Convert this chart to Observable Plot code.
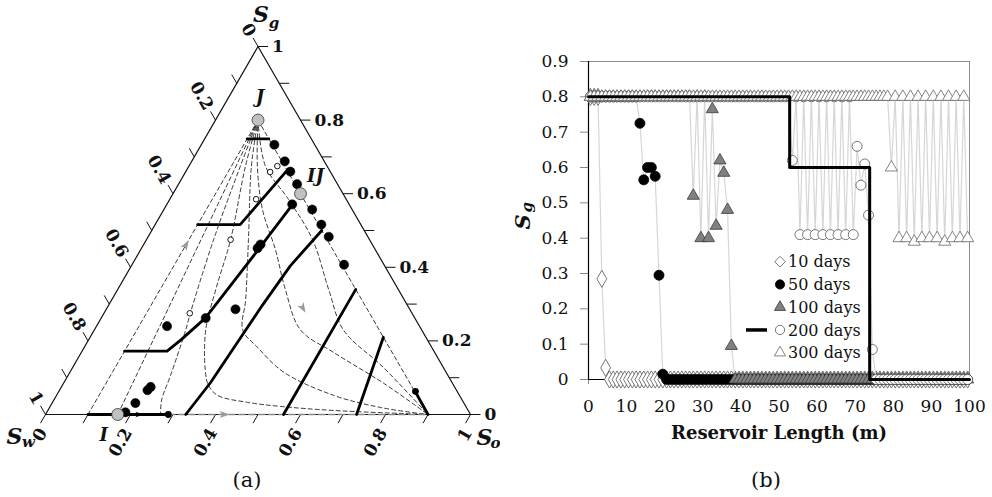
<!DOCTYPE html>
<html><head><meta charset="utf-8">
<script src="https://cdn.jsdelivr.net/npm/d3@7"></script>
<script src="https://cdn.jsdelivr.net/npm/@observablehq/plot@0.6"></script>
<style>
body{margin:0;background:#fff;}
#wrap{position:relative;width:992px;height:497px;overflow:hidden;font-family:"DejaVu Serif",serif;color:#111;}
.panel{position:absolute;top:0;}
.cap{position:absolute;top:467px;width:60px;text-align:center;font-size:21px;line-height:26px;font-family:"DejaVu Serif",serif;}
#legend{position:absolute;left:740px;top:248px;overflow:visible;}
</style></head><body>
<div id="wrap">
 <div id="a" class="panel" style="left:0"></div>
 <div id="b" class="panel" style="left:500px"></div>
 <div class="cap" style="left:217px">(a)</div>
 <div class="cap" style="left:736px">(b)</div>
 <svg id="legend" width="130" height="115"></svg>
</div>
<script>
// ================= DATA: ternary diagram (a) — points are [So, Sg], Sw = 1 - So - Sg =================
const ternTicks = [0, 0.1, 0.2, 0.3, 0.4, 0.5, 0.6, 0.7, 0.8, 0.9, 1];
const ternLabelVals = [0, 0.2, 0.4, 0.6, 0.8, 1];
const ternLabels = ["0", "0.2", "0.4", "0.6", "0.8", "1"];

const pointJ = [0.10, 0.80];
const pointIJ = [0.30, 0.60];
const pointI = [0.17, 0.00];

const fanD1 = [[0.10, 0.80], [0.10, 0.00]];
const fanD2 = [[0.10, 0.80], [0.17, 0.00]];
const fanD3 = [[0.10, 0.80], [0.121, 0.675], [0.158, 0.475], [0.203, 0.276], [0.215, 0.23], [0.241, 0.107], [0.254, 0.038], [0.271, 0.00]];
const fanD4 = [[0.10, 0.80], [0.133, 0.675], [0.198, 0.475], [0.231, 0.339], [0.262, 0.23], [0.316, 0.12], [0.344, 0.079], [0.379, 0.052], [0.459, 0.033], [0.542, 0.022], [0.672, 0.011], [0.90, 0.00]];
const fanD5 = [[0.10, 0.80], [0.147, 0.675], [0.240, 0.475], [0.315, 0.312], [0.349, 0.23], [0.407, 0.183], [0.503, 0.115], [0.652, 0.052], [0.779, 0.019], [0.90, 0.00]];
const fanD6 = [[0.10, 0.80], [0.161, 0.675], [0.232, 0.557], [0.317, 0.448], [0.395, 0.339], [0.485, 0.23], [0.593, 0.169], [0.753, 0.085], [0.90, 0.00]];
const fanD7 = [[0.10, 0.80], [0.180, 0.675], [0.279, 0.585], [0.391, 0.475], [0.497, 0.339], [0.586, 0.23], [0.731, 0.128], [0.90, 0.00]];
const fanD8 = [[0.10, 0.80], [0.90, 0.00]];
const grayPath = [[0.29, 0.00], [0.90, 0.00]];

const thick1 = [[0.10, 0.00], [0.29, 0.00]];
const thick2 = [[0.10, 0.749], [0.151, 0.749]];
const thick3 = [[0.10, 0.516], [0.20, 0.516], [0.237, 0.664]];
const thick4 = [[0.10, 0.172], [0.20, 0.172], [0.217, 0.202], [0.245, 0.262], [0.262, 0.361], [0.278, 0.456], [0.296, 0.571]];
const thick5 = [[0.33, 0.00], [0.345, 0.087], [0.353, 0.189], [0.362, 0.298], [0.374, 0.404], [0.40, 0.50]];
const thick6 = [[0.56, 0.00], [0.56, 0.34]];
const thick7 = [[0.732, 0.00], [0.69, 0.21]];
const thick8 = [[0.90, 0.00], [0.844, 0.057]];

const blackDots = [[0.172, 0.733], [0.219, 0.688], [0.246, 0.660], [0.279, 0.626], [0.349, 0.557], [0.391, 0.516], [0.425, 0.483], [0.499, 0.407],
  [0.295, 0.571], [0.207, 0.066], [0.21, 0.075], [0.196, 0.031], [0.185, 0.006], [0.166, 0.240], [0.246, 0.262], [0.304, 0.286], [0.273, 0.452], [0.275, 0.462]];
const smallBlackDots = [[0.289, 0.00], [0.839, 0.063]];
const openDots = [[0.208, 0.675], [0.199, 0.659], [0.203, 0.585], [0.198, 0.475], [0.202, 0.275]];
const arrowUpD1 = [[0.10, 0.46]];
const arrowBottom = [[0.42, 0.00]];
const arrowDownSw = [[0.46, 0.29]];
const arrowBlack = [[0.22, 0.00]];

// ================= DATA: Sg profiles (b) =================
const cells = [0.5,1.5,2.5,3.5,4.5,5.5,6.5,7.5,8.5,9.5,
 10.5,11.5,12.5,13.5,14.5,15.5,16.5,17.5,18.5,19.5,
 20.5,21.5,22.5,23.5,24.5,25.5,26.5,27.5,28.5,29.5,
 30.5,31.5,32.5,33.5,34.5,35.5,36.5,37.5,38.5,39.5,
 40.5,41.5,42.5,43.5,44.5,45.5,46.5,47.5,48.5,49.5,
 50.5,51.5,52.5,53.5,54.5,55.5,56.5,57.5,58.5,59.5,
 60.5,61.5,62.5,63.5,64.5,65.5,66.5,67.5,68.5,69.5,
 70.5,71.5,72.5,73.5,74.5,75.5,76.5,77.5,78.5,79.5,
 80.5,81.5,82.5,83.5,84.5,85.5,86.5,87.5,88.5,89.5,
 90.5,91.5,92.5,93.5,94.5,95.5,96.5,97.5,98.5,99.5];
const sg10 = [.8,.8,.8,.285,.033,0,0,0,0,0,
 0,0,0,0,0,0,0,0,0,0, 0,0,0,0,0,0,0,0,0,0, 0,0,0,0,0,0,0,0,0,0,
 0,0,0,0,0,0,0,0,0,0, 0,0,0,0,0,0,0,0,0,0, 0,0,0,0,0,0,0,0,0,0,
 0,0,0,0,0,0,0,0,0,0, 0,0,0,0,0,0,0,0,0,0, 0,0,0,0,0,0,0,0,0,0];
const sg50 = [.8,.8,.8,.8,.8,.8,.8,.8,.8,.8,
 .8,.8,.8,.725,.565,.6,.6,.575,.295,.015,
 0,0,0,0,0,0,0,0,0,0, 0,0,0,0,0,0,0,0,0,0, 0,0,0,0,0,0,0,0,0,0,
 0,0,0,0,0,0,0,0,0,0, 0,0,0,0,0,0,0,0,0,0, 0,0,0,0,0,0,0,0,0,0,
 0,0,0,0,0,0,0,0,0,0, 0,0,0,0,0,0,0,0,0,0];
const sg100 = [.8,.8,.8,.8,.8,.8,.8,.8,.8,.8,
 .8,.8,.8,.8,.8,.8,.8,.8,.8,.8,
 .8,.8,.8,.8,.8,.8,.8,.52,.8,.4,
 .8,.4,.765,.435,.62,.585,.48,.095,0,0,
 0,0,0,0,0,0,0,0,0,0, 0,0,0,0,0,0,0,0,0,0, 0,0,0,0,0,0,0,0,0,0,
 0,0,0,0,0,0,0,0,0,0, 0,0,0,0,0,0,0,0,0,0, 0,0,0,0,0,0,0,0,0,0];
const sg200 = [.8,.8,.8,.8,.8,.8,.8,.8,.8,.8,
 .8,.8,.8,.8,.8,.8,.8,.8,.8,.8,
 .8,.8,.8,.8,.8,.8,.8,.8,.8,.8,
 .8,.8,.8,.8,.8,.8,.8,.8,.8,.8,
 .8,.8,.8,.8,.8,.8,.8,.8,.8,.8,
 .8,.8,.8,.62,.8,.41,.8,.41,.8,.41,
 .8,.41,.8,.41,.8,.41,.8,.41,.8,.41,
 .66,.55,.61,.465,.085,0,0,0,0,0,
 0,0,0,0,0,0,0,0,0,0, 0,0,0,0,0,0,0,0,0,0];
const sg300 = [.8,.8,.8,.8,.8,.8,.8,.8,.8,.8,
 .8,.8,.8,.8,.8,.8,.8,.8,.8,.8,
 .8,.8,.8,.8,.8,.8,.8,.8,.8,.8,
 .8,.8,.8,.8,.8,.8,.8,.8,.8,.8,
 .8,.8,.8,.8,.8,.8,.8,.8,.8,.8,
 .8,.8,.8,.8,.8,.8,.8,.8,.8,.8,
 .8,.8,.8,.8,.8,.8,.8,.8,.8,.8,
 .8,.8,.8,.8,.8,.8,.8,.8,.8,.6,
 .8,.4,.8,.4,.8,.39,.8,.4,.8,.4,
 .8,.4,.8,.39,.8,.4,.8,.4,.8,.4];
const stepX = [0, 52.8, 52.8, 73.8, 73.8, 100];
const stepY = [0.8, 0.8, 0.6, 0.6, 0, 0];
const seriesNames = ["10 days", "50 days", "100 days", "200 days", "300 days"];
const xTicks = [0, 10, 20, 30, 40, 50, 60, 70, 80, 90, 100];
const yTicks = [0, 0.1, 0.2, 0.3, 0.4, 0.5, 0.6, 0.7, 0.8, 0.9];

// ================= TERNARY CHART =================
const SQ = Math.sqrt(3) / 2;
const TX = d => d[0] + d[1] / 2;
const TY = d => d[1] * SQ;
const PXU = 425;             // pixels per unit of the ternary side
const TL = 10 / PXU, GAP = 3 / PXU;
const FF = "DejaVu Serif";

function arrowSymbol(deg) {
  const a = deg * Math.PI / 180, c = Math.cos(a), s = Math.sin(a);
  const pts = [[1.3, 0], [-1, -0.8], [-0.4, 0], [-1, 0.8]];
  return {draw(ctx, size) {
    const r = Math.sqrt(size / Math.PI);
    pts.forEach(([px, py], i) => {
      const X = (px * c - py * s) * r, Y = (px * s + py * c) * r;
      i ? ctx.lineTo(X, Y) : ctx.moveTo(X, Y);
    });
    ctx.closePath();
  }};
}

const tri = [[0, 0], [1, 0], [0, 1], [0, 0]];
const bottomTicks = ternTicks.map(t => ({x1: t, y1: 0, x2: t - 0.5 * TL, y2: -SQ * TL}));
const leftTicks = ternTicks.map(t => { const g = 1 - t; return {x1: g / 2, y1: g * SQ, x2: g / 2 - 0.5 * TL, y2: g * SQ + SQ * TL}; });
const rightTicks = ternTicks.map(t => ({x1: 1 - t / 2, y1: t * SQ, x2: 1 - t / 2 + TL, y2: t * SQ}));
const bottomLab = ternLabelVals.map((t, i) => ({x: t - 0.5 * (TL + GAP), y: -SQ * (TL + GAP), s: ternLabels[i]}));
const leftLab = ternLabelVals.map((t, i) => { const g = 1 - t; return {x: g / 2 - 0.5 * (TL + GAP), y: g * SQ + SQ * (TL + GAP), s: ternLabels[i]}; });
const rightLab = ternLabelVals.map((t, i) => ({x: 1 - t / 2 + TL + 4 / PXU, y: t * SQ, s: ternLabels[i]}));

const fans = [fanD1, fanD2, fanD3, fanD4, fanD5, fanD6, fanD7, fanD8];
const fanRows = fans.flatMap((c, k) => c.map(p => ({k, p})));
const thicks = [thick1, thick2, thick3, thick4, thick5, thick6, thick7, thick8];
const thickRows = thicks.flatMap((c, k) => c.map(p => ({k, p})));
const lab = {fontFamily: FF, fontWeight: "bold", fontSize: 17, fill: "#111"};
const ital = {fontFamily: FF, fontWeight: "bold", fontStyle: "italic", fill: "#111"};

const ternary = Plot.plot({
  width: 500, height: 455,
  marginLeft: 45, marginRight: 30, marginTop: 46, marginBottom: 41,
  x: {domain: [0, 1], axis: null},
  y: {domain: [0, SQ], axis: null},
  style: {fontFamily: FF, background: "white", overflow: "visible"},
  marks: [
    Plot.line(tri, {x: TX, y: TY, stroke: "#111", strokeWidth: 1.2}),
    Plot.link(bottomTicks, {x1: "x1", y1: "y1", x2: "x2", y2: "y2", stroke: "#111"}),
    Plot.link(leftTicks, {x1: "x1", y1: "y1", x2: "x2", y2: "y2", stroke: "#111"}),
    Plot.link(rightTicks, {x1: "x1", y1: "y1", x2: "x2", y2: "y2", stroke: "#111"}),
    Plot.text(bottomLab, {x: "x", y: "y", text: "s", rotate: -60, textAnchor: "end", dx: 4, dy: 4, ...lab}),
    Plot.text(leftLab, {x: "x", y: "y", text: "s", rotate: 60, textAnchor: "end", ...lab}),
    Plot.text(rightLab, {x: "x", y: "y", text: "s", textAnchor: "start", ...lab}),
    Plot.line(fanRows, {x: d => TX(d.p), y: d => TY(d.p), z: "k", curve: "catmull-rom", stroke: "#222", strokeWidth: 0.9, strokeDasharray: "4,3"}),
    Plot.line(grayPath, {x: TX, y: TY, stroke: "#8a8a8a", strokeWidth: 1.5, strokeDasharray: "6,4"}),
    Plot.line(thickRows, {x: d => TX(d.p), y: d => TY(d.p), z: "k", stroke: "#000", strokeWidth: 2.8, strokeLinejoin: "round"}),
    Plot.dot(arrowUpD1, {x: TX, y: TY, r: 4.5, symbol: arrowSymbol(-60), fill: "#9a9a9a", stroke: "none"}),
    Plot.dot(arrowBottom, {x: TX, y: TY, r: 4.5, symbol: arrowSymbol(0), fill: "#9a9a9a", stroke: "none"}),
    Plot.dot(arrowDownSw, {x: TX, y: TY, r: 4.5, symbol: arrowSymbol(60), fill: "#9a9a9a", stroke: "none"}),
    Plot.dot(arrowBlack, {x: TX, y: TY, r: 3.5, symbol: arrowSymbol(0), fill: "#000", stroke: "none"}),
    Plot.dot(blackDots, {x: TX, y: TY, r: 4.6, fill: "#000", stroke: "#000", strokeWidth: 0.5}),
    Plot.dot(smallBlackDots, {x: TX, y: TY, r: 3.4, fill: "#000"}),
    Plot.dot(openDots, {x: TX, y: TY, r: 2.8, fill: "white", stroke: "#000", strokeWidth: 0.9}),
    Plot.dot([pointJ, pointIJ, pointI], {x: TX, y: TY, r: 6, fill: "#c0c0c0", stroke: "#333", strokeWidth: 0.8}),
    Plot.text([pointJ], {x: TX, y: TY, text: () => "J", dx: 2, dy: -23, fontSize: 18, ...ital}),
    Plot.text([pointIJ], {x: TX, y: TY, text: () => "IJ", dx: 15, dy: -17, fontSize: 18, ...ital}),
    Plot.text([pointI], {x: TX, y: TY, text: () => "I", dx: -14, dy: 21, fontSize: 18, ...ital}),
    Plot.text([[0, 1]], {x: TX, y: TY, text: () => "S", dx: 3, dy: -32, fontSize: 22, ...ital}),
    Plot.text([[0, 1]], {x: TX, y: TY, text: () => "g", dx: 16, dy: -23, fontSize: 15, ...ital}),
    Plot.text([[0, 0]], {x: TX, y: TY, text: () => "S", dx: -31, dy: 22, fontSize: 22, ...ital}),
    Plot.text([[0, 0]], {x: TX, y: TY, text: () => "w", dx: -17, dy: 28, fontSize: 15, ...ital}),
    Plot.text([[1, 0]], {x: TX, y: TY, text: () => "S", dx: 14, dy: 23, fontSize: 22, ...ital}),
    Plot.text([[1, 0]], {x: TX, y: TY, text: () => "o", dx: 25, dy: 29, fontSize: 15, ...ital})
  ]
});
document.getElementById("a").append(ternary);

// ================= PROFILE CHART =================
const series = [
  {name: seriesNames[0], values: sg10, symbol: "diamond", fill: "white", stroke: "#555", r: 5.2},
  {name: seriesNames[1], values: sg50, symbol: "circle", fill: "#000", stroke: "#000", r: 5},
  {name: seriesNames[2], values: sg100, symbol: "triangle", fill: "#808080", stroke: "#3a3a3a", r: 4.5},
  {name: seriesNames[3], values: sg200, symbol: "circle", fill: "white", stroke: "#555", r: 5},
  {name: seriesNames[4], values: sg300, symbol: "triangle", fill: "white", stroke: "#666", r: 4.5}
];
const seriesMarks = series.flatMap(s => {
  const rows = cells.map((x, i) => ({x, y: s.values[i]}));
  return [
    Plot.line(rows, {x: "x", y: "y", stroke: "#d6d6d6", strokeWidth: 1.2}),
    Plot.dot(rows, {x: "x", y: "y", symbol: s.symbol, r: s.r, fill: s.fill, stroke: s.stroke, strokeWidth: 0.8})
  ];
});
const stepRows = stepX.map((x, i) => ({x, y: stepY[i]}));

const profile = Plot.plot({
  width: 492, height: 455,
  marginLeft: 88, marginRight: 23, marginTop: 61, marginBottom: 76,
  x: {domain: [0, 100]},
  y: {domain: [0, 0.9]},
  style: {fontFamily: FF, fontSize: "17px", background: "white", color: "#111", overflow: "visible"},
  marks: [
    Plot.frame({stroke: "#8c8c8c"}),
    Plot.axisY({ticks: yTicks, tickSize: 8, tickPadding: 12, stroke: "#888", fill: "#111", label: null,
      tickFormat: d => d === 0 ? "0" : d3.format(".1f")(d), fontSize: 17}),
    Plot.axisX({ticks: xTicks, tickSize: 5, tickPadding: 15, stroke: "#888", fill: "#111", label: null, fontSize: 17}),
    Plot.ruleX([0], {stroke: "#000", strokeWidth: 1.2}),
    Plot.ruleY([0], {stroke: "#000", strokeWidth: 1.2}),
    ...seriesMarks,
    Plot.line(stepRows, {x: "x", y: "y", stroke: "#000", strokeWidth: 3}),
    Plot.text(["Reservoir Length (m)"], {frameAnchor: "bottom", dy: 59, fontSize: 18, fontWeight: "bold", fill: "#111"}),
    Plot.text(["S"], {frameAnchor: "left", dx: -65, dy: 9, rotate: -90, fontSize: 21, fontWeight: "bold", fontStyle: "italic", fill: "#111"}),
    Plot.text(["g"], {frameAnchor: "left", dx: -61, dy: -8, rotate: -90, fontSize: 15, fontWeight: "bold", fontStyle: "italic", fill: "#111"})
  ]
});
document.getElementById("b").append(profile);

// ================= LEGEND =================
const symTypes = {diamond: d3.symbolDiamond2, circle: d3.symbolCircle, triangle: d3.symbolTriangle};
const lg = d3.select("#legend");
const rowY = i => 13.7 + i * 22.75;
lg.append("line").attr("x1", 6).attr("x2", 27).attr("y1", rowY(3)).attr("y2", rowY(3))
  .attr("stroke", "#000").attr("stroke-width", 3.5);
series.forEach((s, i) => {
  lg.append("path").attr("transform", `translate(40,${rowY(i)})`)
    .attr("d", d3.symbol(symTypes[s.symbol], Math.PI * s.r * s.r * 0.85)())
    .attr("fill", s.fill).attr("stroke", s.stroke).attr("stroke-width", 0.8);
  lg.append("text").attr("x", 48).attr("y", rowY(i)).attr("dy", "0.35em")
    .attr("font-family", FF).attr("font-size", 16).attr("fill", "#111").text(s.name);
});
</script>
</body></html>
